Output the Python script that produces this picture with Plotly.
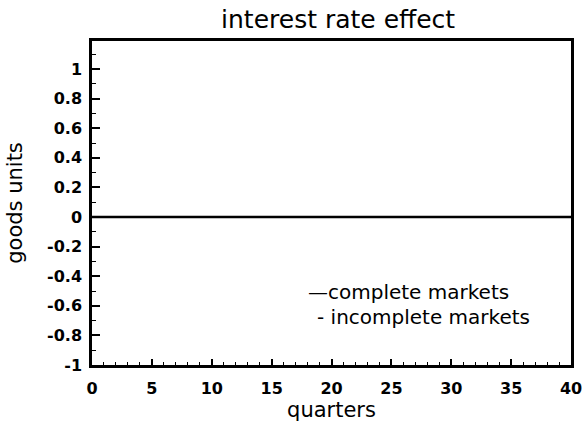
import plotly.graph_objects as go

quarters = list(range(0, 41))
complete_markets = [0.0, 0.0, 0.0, 0.0, 0.0, 0.0, 0.0, 0.0, 0.0, 0.0,
                    0.0, 0.0, 0.0, 0.0, 0.0, 0.0, 0.0, 0.0, 0.0, 0.0,
                    0.0, 0.0, 0.0, 0.0, 0.0, 0.0, 0.0, 0.0, 0.0, 0.0,
                    0.0, 0.0, 0.0, 0.0, 0.0, 0.0, 0.0, 0.0, 0.0, 0.0, 0.0]
incomplete_markets = [0.0, 0.0, 0.0, 0.0, 0.0, 0.0, 0.0, 0.0, 0.0, 0.0,
                      0.0, 0.0, 0.0, 0.0, 0.0, 0.0, 0.0, 0.0, 0.0, 0.0,
                      0.0, 0.0, 0.0, 0.0, 0.0, 0.0, 0.0, 0.0, 0.0, 0.0,
                      0.0, 0.0, 0.0, 0.0, 0.0, 0.0, 0.0, 0.0, 0.0, 0.0, 0.0]
y_ticks = [1, 0.8, 0.6, 0.4, 0.2, 0, -0.2, -0.4, -0.6, -0.8, -1]
y_tick_labels = ["1", "0.8", "0.6", "0.4", "0.2", "0", "-0.2", "-0.4", "-0.6", "-0.8", "-1"]
x_ticks = [0, 5, 10, 15, 20, 25, 30, 35, 40]

FONT = "DejaVu Sans, sans-serif"

fig = go.Figure()
fig.add_trace(go.Scatter(x=quarters, y=complete_markets, mode="lines",
                         line=dict(color="black", width=2.5), name="complete markets",
                         showlegend=False))
fig.add_trace(go.Scatter(x=quarters, y=incomplete_markets, mode="lines",
                         line=dict(color="black", width=1.5, dash="dash"), name="incomplete markets",
                         showlegend=False))

fig.add_annotation(x=0.447, y=0.226, xref="paper", yref="paper", xanchor="left", yanchor="middle",
                   text="—complete markets", showarrow=False,
                   font=dict(family=FONT, size=20, color="black"))
fig.add_annotation(x=0.465, y=0.147, xref="paper", yref="paper", xanchor="left", yanchor="middle",
                   text="- incomplete markets", showarrow=False,
                   font=dict(family=FONT, size=20, color="black"))

fig.update_layout(
    width=586, height=431,
    margin=dict(l=92, r=15, t=41, b=66),
    paper_bgcolor="white", plot_bgcolor="white",
    title=dict(text="interest rate effect", x=0.577, xanchor="center", y=0.956, yanchor="middle",
               font=dict(family=FONT, size=25, color="black")),
    font=dict(family=FONT, color="black"),
)
fig.update_xaxes(
    range=[0, 40], tickmode="array", tickvals=x_ticks, automargin=False,
    ticks="inside", ticklen=6, tickwidth=1.5, tickcolor="black",
    minor=dict(dtick=1, ticks="inside", ticklen=3, tickcolor="black", tickwidth=1),
    showline=True, linecolor="black", linewidth=2.5, mirror=True,
    showgrid=False, zeroline=False, ticklabelstandoff=7,
    tickfont=dict(family=FONT, size=16, color="black", weight="bold"),
    title=dict(text="quarters", font=dict(family=FONT, size=21, color="black"), standoff=4),
)
fig.update_yaxes(
    range=[-1, 1.19], tickmode="array", tickvals=y_ticks, ticktext=y_tick_labels, automargin=False,
    ticks="inside", ticklen=8, tickwidth=1.5, tickcolor="black",
    minor=dict(tick0=0, dtick=0.1, ticks="inside", ticklen=4, tickcolor="black", tickwidth=1),
    showline=True, linecolor="black", linewidth=2.5, mirror=True,
    showgrid=False, zeroline=False, ticklabelstandoff=4,
    tickfont=dict(family=FONT, size=16, color="black", weight="bold"),
    title=dict(text="goods units", font=dict(family=FONT, size=21, color="black"), standoff=19),
)

fig.write_html("out.html", config={"displayModeBar": False},
               post_script="document.body.style.margin='0';")
